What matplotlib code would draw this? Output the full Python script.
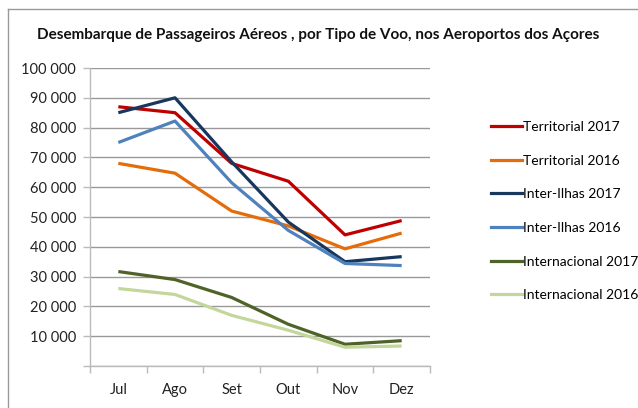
import matplotlib
matplotlib.use("Agg")
import matplotlib.pyplot as plt
from matplotlib.lines import Line2D
from matplotlib.ticker import FuncFormatter, MultipleLocator

months = ["Jul", "Ago", "Set", "Out", "Nov", "Dez"]
series_names = ["Territorial 2017", "Territorial 2016", "Inter-Ilhas 2017",
                "Inter-Ilhas 2016", "Internacional 2017", "Internacional 2016"]
territorial_2017 = [87000, 85000, 68000, 62000, 44000, 48800]
territorial_2016 = [68000, 64700, 52000, 47000, 39300, 44600]
interilhas_2017 = [85000, 90000, 68500, 48300, 35000, 36700]
interilhas_2016 = [75000, 82200, 61500, 45500, 34400, 33700]
internacional_2017 = [31700, 29000, 23000, 14000, 7300, 8500]
internacional_2016 = [26000, 24000, 17000, 12000, 6300, 6700]
colors = ["#C00000", "#E46C0A", "#17375E", "#4F81BD", "#4F6228", "#C3D69B"]

values = [territorial_2017, territorial_2016, interilhas_2017,
          interilhas_2016, internacional_2017, internacional_2016]

plt.rcParams['font.family'] = ['Lato', 'DejaVu Sans']

W, H = 638, 408
fig = plt.figure(figsize=(W / 100, H / 100), dpi=100)
ax = fig.add_axes([90 / W, 1 - 366 / H, 340 / W, (366 - 68) / H])

x = list(range(len(months)))
for name, vals, c in zip(series_names, values, colors):
    ax.plot(x, vals, color=c, lw=2.3, label=name, solid_capstyle='butt')

ax.set_xlim(-0.5, len(months) - 0.5)
ax.set_ylim(0, 100000)
ax.yaxis.set_major_locator(MultipleLocator(10000))
ax.yaxis.set_major_formatter(FuncFormatter(
    lambda v, p: "" if v == 0 else f"{int(v):,}".replace(",", " ")))
ax.grid(axis='y', color='#999999', lw=1.0)
ax.set_axisbelow(True)
ax.set_xticks(x)
ax.set_xticklabels(months)
ax.set_xticks([i - 0.5 for i in range(len(months) + 1)], minor=True)
ax.tick_params(axis='x', which='major', length=0, pad=12, labelsize=10.5, colors='#222222')
ax.tick_params(axis='x', which='minor', length=5, color='#BBBBBB', width=1)
ax.tick_params(axis='y', length=5, color='#BBBBBB', width=1, pad=5, labelsize=10.5, labelcolor='#222222')
for s in ['top', 'right']:
    ax.spines[s].set_visible(False)
for s in ['left', 'bottom']:
    ax.spines[s].set_color('#BBBBBB')
    ax.spines[s].set_linewidth(1)

fig.text(318 / W, 1 - 35 / H,
         "Desembarque de Passageiros Aéreos , por Tipo de Voo, nos Aeroportos dos Açores",
         ha='center', va='center', fontsize=11, fontweight='bold', color='#111111')

# legend
handles = [Line2D([0], [0], color=c, lw=2.3) for c in colors]
fig.legend(handles, series_names, loc='upper left',
           bbox_to_anchor=(491 / W, 1 - 121 / H), frameon=False,
           fontsize=10, handlelength=2.2, handletextpad=0.1,
           labelspacing=1.56, borderpad=0, borderaxespad=0)

# chart border
fig.add_artist(Line2D([8 / W, 1.0], [1 - 9 / H, 1 - 9 / H], color='#999999', lw=1,
                      transform=fig.transFigure))
fig.add_artist(Line2D([8 / W, 8 / W], [0, 1 - 9 / H], color='#999999', lw=1,
                      transform=fig.transFigure))

fig.savefig("out.png", dpi=100)
